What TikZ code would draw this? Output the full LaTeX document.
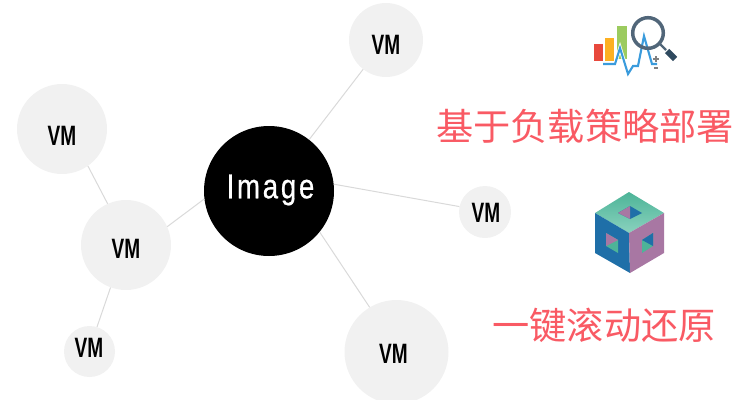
\documentclass[tikz,border=0pt]{standalone}
\usepackage{fontspec}
\newfontfamily\cjkfont{Noto Sans CJK SC}
\newfontfamily\vmfont[FakeStretch=0.68]{Liberation Sans}
\newfontfamily\imagefont[FakeStretch=0.8,LetterSpace=8,FakeBold=0.6]{Liberation Sans}
\definecolor{vmgray}{HTML}{F1F1F1}
\definecolor{linkgray}{HTML}{D9D9D9}
\definecolor{titlered}{HTML}{F95A64}
\definecolor{cubeblue}{HTML}{1F6FA8}
\definecolor{cubegreen}{HTML}{4DB498}
\definecolor{cubelight}{HTML}{8AD2BE}
\definecolor{cubepurple}{HTML}{A877A3}
\definecolor{barred}{HTML}{E8483C}
\definecolor{barorange}{HTML}{FDB022}
\definecolor{bargreen}{HTML}{9CCB5F}
\definecolor{pulseblue}{HTML}{3A9BDC}
\definecolor{lensgray}{HTML}{516679}
\definecolor{handlegray}{HTML}{2F4A5F}
\tikzset{
  vm/.style={circle, fill=vmgray, inner sep=0},
  vmtext/.style={inner sep=0, font=\vmfont\bfseries\fontsize{28}{28}\selectfont},
  link/.style={draw=linkgray, line width=1pt},
  title/.style={text=titlered, inner sep=0, font=\cjkfont\fontsize{37.2}{37.2}\selectfont}
}
\begin{document}
\begin{tikzpicture}[x=1pt, y=-1pt]
\useasboundingbox (0, 0) rectangle (738, 399);

\node [circle, fill=black, text=white, inner sep=0, minimum size=130pt] (image) at (269, 191) {};
\node [text=white, inner sep=0, font=\imagefont\fontsize{34.5}{34.5}\selectfont] (imagetext) at (270.5, 190) {Image};

\node [vm, minimum size=74pt] (vmtop) at (386, 40) {};
\node [vm, minimum size=90pt] (vmfar) at (62, 129) {};
\node [vm, minimum size=90pt] (vmleft) at (126, 245) {};
\node [vm, minimum size=51pt] (vmlow) at (89.5, 351.5) {};
\node [vm, minimum size=52pt] (vmright) at (485, 212) {};
\node [vm, minimum size=104pt] (vmbig) at (396.5, 352) {};

\node [vmtext] (vmtoptext) at (386, 45) {VM};
\node [vmtext] (vmfartext) at (62, 136) {VM};
\node [vmtext] (vmlefttext) at (126, 249) {VM};
\node [vmtext] (vmlowtext) at (89, 348) {VM};
\node [vmtext] (vmrighttext) at (486, 213) {VM};
\node [vmtext] (vmbigtext) at (393.5, 354) {VM};

\draw [link] (image.52.6) -- (vmtop.-128.4);
\draw [link] (image.6) -- (vmright.168.7);
\draw [link] (image.-39.7) -- (vmbig.121);
\draw [link] (image.187.9) -- (vmleft.24.9);
\draw [link] (vmleft.114.3) -- (vmfar.-55.6);
\draw [link] (vmleft.-110.4) -- (vmlow.73.6);

\node [title] (titleone) at (585, 126) {基于负载策略部署};
\node [title] (titletwo) at (604, 325) {一键滚动还原};

% chart icon
\fill [barred] (594, 44) rectangle (603, 61);
\fill [barorange] (605, 38) rectangle (614, 61);
\fill [bargreen] (617, 26) rectangle (627, 59);
\draw [white, line width=3.6pt] (615, 64) -- (620, 48) -- (628, 74);
\draw [pulseblue, line width=2.1pt] (603, 64) -- (615, 64) -- (620, 48) -- (628, 74) -- (633, 66) -- (638, 66) -- (644, 36) -- (652, 64) -- (657, 64);
\draw [lensgray, line width=3.5pt] (648, 33) circle [radius=15.3];
\draw [lensgray, line width=2.4pt] (660, 44) -- (666, 50);
\draw [handlegray, line width=6pt] (667, 51) -- (675, 59);
\draw [gray, line width=1.2pt] (653, 59) -- (659, 59) (656, 56) -- (656, 62) (654, 68) -- (658, 68);

% cube icon
\shade [top color=cubegreen, bottom color=cubelight] (629, 192) -- (664, 213) -- (629, 233) -- (595, 213) -- cycle;
\fill [cubeblue] (595, 213) -- (629, 233) -- (630, 273) -- (595, 253) -- cycle;
\fill [cubepurple] (664, 213) -- (629, 233) -- (630, 273) -- (664, 253) -- cycle;

\fill [cubeblue] (618, 213) -- (630, 206) -- (642, 213) -- (630, 219) -- cycle;
\fill [cubepurple] (618, 213) -- (630, 206) -- (630, 219) -- cycle;

\fill [cubegreen] (606, 233) -- (618, 240) -- (618, 253) -- (606, 246) -- cycle;
\fill [cubepurple] (606, 233) -- (618, 240) -- (606, 246) -- cycle;

\fill [cubegreen] (642, 240) -- (653, 233) -- (653, 246) -- (642, 253) -- cycle;
\fill [cubeblue] (642, 240) -- (653, 233) -- (653, 246) -- cycle;
\end{tikzpicture}
\end{document}
